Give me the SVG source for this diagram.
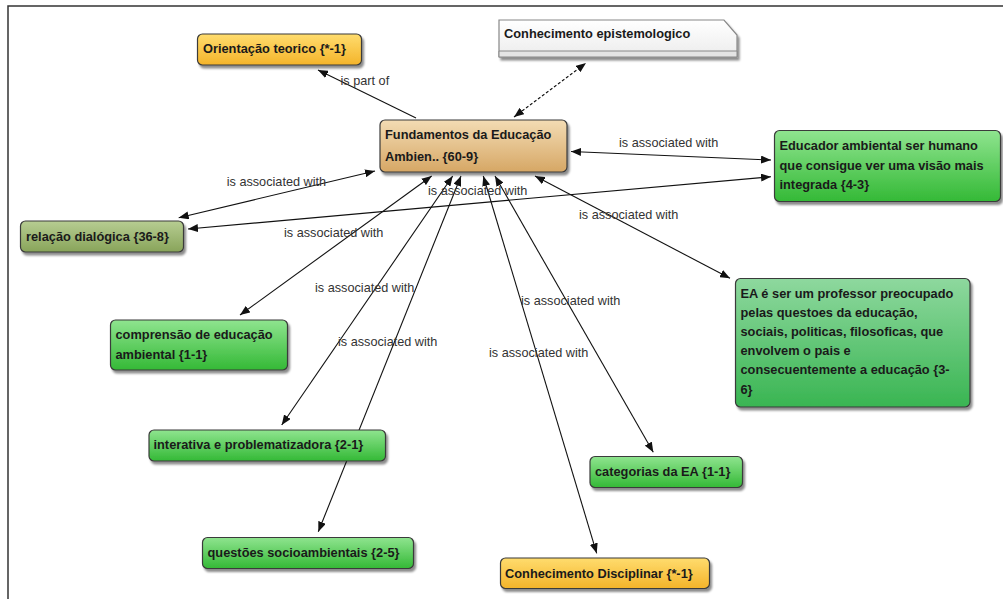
<svg xmlns="http://www.w3.org/2000/svg" width="1003" height="599" viewBox="0 0 1003 599">
<style>
.frame{stroke:#333;stroke-width:1.5;fill:none}
.box{stroke:#3a3a3a;stroke-width:1.2;filter:url(#sh)}
.nt{font-family:"Liberation Sans",Arial,sans-serif;font-weight:bold;font-size:12.8px;fill:#1a1a1a}
.lbl{font-family:"Liberation Sans",Arial,sans-serif;font-size:12.7px;fill:#333}
.cn{stroke:#111;stroke-width:1.1;fill:none}
.both{marker-start:url(#ah);marker-end:url(#ah)}
.dash{stroke-dasharray:3,2}
</style>
<defs>
<filter id="sh" x="-10%" y="-20%" width="130%" height="160%">
<feDropShadow dx="2" dy="3" stdDeviation="1.3" flood-color="#000" flood-opacity="0.45"/>
</filter>
<marker id="ah" viewBox="0 0 10 8" refX="10" refY="4" markerWidth="10" markerHeight="8" markerUnits="userSpaceOnUse" orient="auto-start-reverse">
<path d="M0,0 L10,4 L0,8 Z" fill="#111"/>
</marker>
<linearGradient id="gY" x1="0" y1="0" x2="0" y2="1"><stop offset="0" stop-color="#ffdc6e"/><stop offset="1" stop-color="#f4b42a"/></linearGradient>
<linearGradient id="gT" x1="0" y1="0" x2="0" y2="1"><stop offset="0" stop-color="#f3dcb4"/><stop offset="1" stop-color="#d6a765"/></linearGradient>
<linearGradient id="gG" x1="0" y1="0" x2="0" y2="1"><stop offset="0" stop-color="#8fe48f"/><stop offset="1" stop-color="#34b936"/></linearGradient>
<linearGradient id="gG2" x1="0" y1="0" x2="0" y2="1"><stop offset="0" stop-color="#8ed89e"/><stop offset="1" stop-color="#39b552"/></linearGradient>
<linearGradient id="gO" x1="0" y1="0" x2="0" y2="1"><stop offset="0" stop-color="#b7cd92"/><stop offset="1" stop-color="#88a45a"/></linearGradient>
<linearGradient id="gN" x1="0" y1="0" x2="0" y2="1"><stop offset="0" stop-color="#ffffff"/><stop offset="1" stop-color="#ececec"/></linearGradient>
</defs>
<rect width="1003" height="599" fill="#fff"/>
<path class="frame" d="M8,599 V6 H1003"/>

<g id="connectors">
<path class="cn" d="M416,118 L318,70" marker-end="url(#ah)"/>
<path class="cn both dash" d="M514,117 L586,63"/>
<path class="cn both" d="M571,151.5 L771,160"/>
<path class="cn both" d="M178.7,217.7 L375,171"/>
<path class="cn both" d="M188,229 L771,176.7"/>
<path class="cn both" d="M431.7,176 L240,315"/>
<path class="cn both" d="M452.7,176 L281.7,425"/>
<path class="cn both" d="M461,176 L318.3,531.7"/>
<path class="cn both" d="M483.3,176 L596.7,553.3"/>
<path class="cn both" d="M495,176 L653.3,452.3"/>
<path class="cn both" d="M535,176 L730,278.3"/>
<text class="lbl" x="340.5" y="85">is part of</text>
<text class="lbl" x="619" y="147">is associated with</text>
<text class="lbl" x="226.7" y="186">is associated with</text>
<text class="lbl" x="428" y="195">is associated with</text>
<text class="lbl" x="579" y="219">is associated with</text>
<text class="lbl" x="284" y="237">is associated with</text>
<text class="lbl" x="315" y="292">is associated with</text>
<text class="lbl" x="521" y="305">is associated with</text>
<text class="lbl" x="338" y="346">is associated with</text>
<text class="lbl" x="489" y="357">is associated with</text>
</g>

<g id="n-orientacao">
<rect class="box" x="197.5" y="34" width="164" height="31" rx="5" fill="url(#gY)"/>
<text class="nt" x="203" y="52.5">Orientação teorico {*-1}</text>
</g>

<g id="n-epistemologico">
<path d="M499,20 H724 L737,35 V57 H499 Z" fill="url(#gN)" stroke="#888" stroke-width="1.2" filter="url(#sh)"/>
<path d="M499,51 H737 V57 H499 Z" fill="#e4e4e4" stroke="#888" stroke-width="1"/>
<text class="nt" x="504" y="37.5">Conhecimento epistemologico</text>
</g>

<g id="n-central">
<rect class="box" x="380" y="120" width="187" height="52" rx="5" fill="url(#gT)"/>
<text class="nt" x="385" y="139">Fundamentos da Educação</text>
<text class="nt" x="385" y="160.5">Ambien.. {60-9}</text>
</g>

<g id="n-educador">
<rect class="box" x="774.5" y="130.5" width="226" height="71" rx="5" fill="url(#gG)"/>
<text class="nt" x="779.5" y="149.5">Educador ambiental ser humano</text>
<text class="nt" x="779.5" y="169.5">que consigue ver uma visão mais</text>
<text class="nt" x="779.5" y="188.5">integrada {4-3}</text>
</g>

<g id="n-relacao">
<rect class="box" x="20.5" y="221" width="163" height="31" rx="5" fill="url(#gO)"/>
<text class="nt" x="26" y="240.5">relação dialógica {36-8}</text>
</g>

<g id="n-comprensao">
<rect class="box" x="110.5" y="320" width="177" height="50" rx="5" fill="url(#gG)"/>
<text class="nt" x="115.5" y="339">comprensão de educação</text>
<text class="nt" x="115.5" y="359">ambiental {1-1}</text>
</g>

<g id="n-ea">
<rect class="box" x="735.5" y="278.5" width="234.5" height="128.5" rx="5" fill="url(#gG2)"/>
<text class="nt" x="740.5" y="297.5">EA é ser um professor preocupado</text>
<text class="nt" x="740.5" y="317">pelas questoes da educação,</text>
<text class="nt" x="740.5" y="335.5">sociais, politicas, filosoficas, que</text>
<text class="nt" x="740.5" y="355">envolvem o pais e</text>
<text class="nt" x="740.5" y="374">consecuentemente a educação {3-</text>
<text class="nt" x="740.5" y="394">6}</text>
</g>

<g id="n-interativa">
<rect class="box" x="149" y="430" width="236.5" height="31" rx="5" fill="url(#gG)"/>
<text class="nt" x="153.5" y="449">interativa e problematizadora {2-1}</text>
</g>

<g id="n-categorias">
<rect class="box" x="590" y="456.5" width="152.5" height="31" rx="5" fill="url(#gG)"/>
<text class="nt" x="595" y="476">categorias da EA {1-1}</text>
</g>

<g id="n-questoes">
<rect class="box" x="202.5" y="537.5" width="211" height="31" rx="5" fill="url(#gG)"/>
<text class="nt" x="207.5" y="556.5">questões socioambientais {2-5}</text>
</g>

<g id="n-disciplinar">
<rect class="box" x="500.5" y="558" width="209" height="30.5" rx="5" fill="url(#gY)"/>
<text class="nt" x="505" y="577.5">Conhecimento Disciplinar {*-1}</text>
</g>
</svg>
